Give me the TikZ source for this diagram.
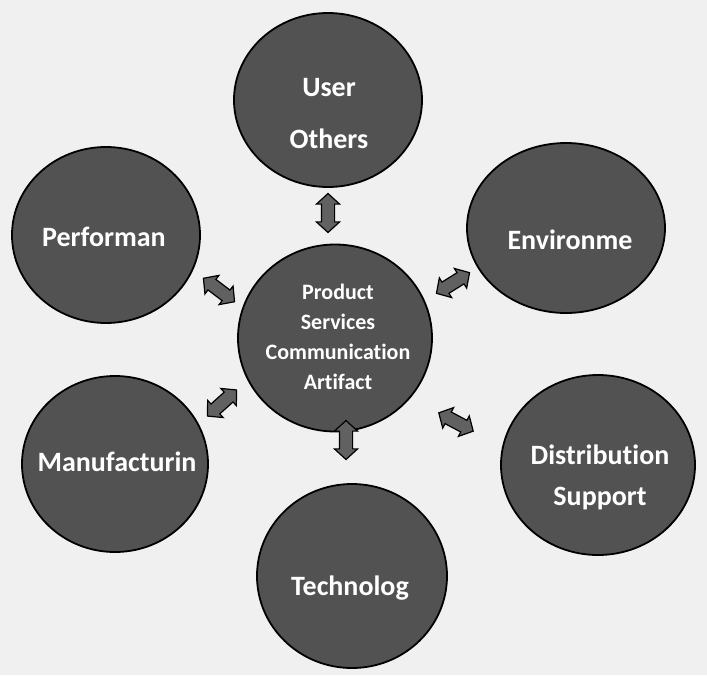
\documentclass[tikz,border=0pt]{standalone}
\usepackage{fontspec}
\setmainfont[Ligatures={NoCommon}]{Carlito}
\usetikzlibrary{shapes.geometric,shapes.arrows}
\begin{document}
\begin{tikzpicture}[x=1pt,y=-1pt,
  blob/.style={ellipse, draw=black, line width=1.8pt, fill=black!68, inner sep=0pt},
  lbl/.style={text=white, font=\bfseries\fontsize{28}{41}\selectfont, align=center, inner sep=0pt},
  corelbl/.style={text=white, font=\bfseries\fontsize{22}{30}\selectfont, align=center, inner sep=0pt},
  link/.style={double arrow, draw=black, line width=1.2pt, fill=black!62, inner xsep=0pt, inner ysep=6pt, minimum height=39pt, double arrow head extend=5pt, double arrow tip angle=95}]
\useasboundingbox[fill=black!6] (0,0) rectangle (707,675);
% circles
\node[blob, minimum width=188pt, minimum height=174pt] (user) at (328,100) {};
\node[blob, minimum width=188pt, minimum height=176pt] (perf) at (106,235) {};
\node[blob, minimum width=198pt, minimum height=170pt] (env) at (566,228) {};
\node[blob, minimum width=194pt, minimum height=187pt] (core) at (335,338) {};
\node[blob, minimum width=186pt, minimum height=176pt] (manu) at (115,464) {};
\node[blob, minimum width=194pt, minimum height=180pt] (dist) at (598,465) {};
\node[blob, minimum width=190pt, minimum height=184pt] (tech) at (352,576) {};
% labels
\node[lbl, font=\bfseries\fontsize{28}{52}\selectfont] (userT) at (329,114) {User\\Others};
\node[lbl] (perfT) at (104,237) {Performan};
\node[lbl] (envT) at (570,240) {Environme};
\node[corelbl] (coreT) at (338,337) {Product\\Services\\Communication\\Artifact};
\node[lbl] (manuT) at (117,462) {Manufacturin};
\node[lbl] (distT) at (600,477) {Distribution\\Support};
\node[lbl] (techT) at (350,588) {Technolog};
% double arrows
\node[link, rotate=90] (aUser) at (328,213) {};
\node[link, rotate=-37] (aPerf) at (219,290) {};
\node[link, rotate=32] (aEnv) at (453,283) {};
\node[link, rotate=42] (aManu) at (222,403) {};
\node[link, rotate=-28] (aDist) at (456,422) {};
\node[link, rotate=90] (aTech) at (346,440) {};
\end{tikzpicture}
\end{document}
